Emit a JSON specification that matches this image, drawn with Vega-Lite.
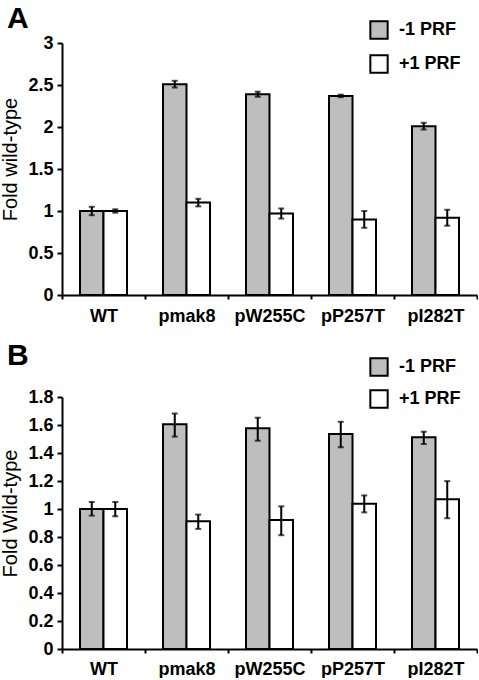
{
  "$schema": "https://vega.github.io/schema/vega-lite/v6.json",
  "background": "white",
  "padding": {"left": 0, "top": 4, "right": 0, "bottom": 0},
  "config": {
    "font": "Liberation Sans",
    "view": {"stroke": null},
    "axis": {"labelColor": "black", "titleColor": "black", "domainColor": "black", "tickColor": "black", "grid": false, "labelOverlap": false}
  },
  "datasets": {
    "A": [
      {"construct": "WT", "frame": "-1 PRF", "value": 1.0, "lo": 0.95, "hi": 1.05},
      {"construct": "WT", "frame": "+1 PRF", "value": 1.0, "lo": 0.98, "hi": 1.02},
      {"construct": "pmak8", "frame": "-1 PRF", "value": 2.51, "lo": 2.47, "hi": 2.55},
      {"construct": "pmak8", "frame": "+1 PRF", "value": 1.10, "lo": 1.055, "hi": 1.145},
      {"construct": "pW255C", "frame": "-1 PRF", "value": 2.39, "lo": 2.36, "hi": 2.42},
      {"construct": "pW255C", "frame": "+1 PRF", "value": 0.97, "lo": 0.91, "hi": 1.03},
      {"construct": "pP257T", "frame": "-1 PRF", "value": 2.37, "lo": 2.355, "hi": 2.385},
      {"construct": "pP257T", "frame": "+1 PRF", "value": 0.90, "lo": 0.80, "hi": 1.00},
      {"construct": "pI282T", "frame": "-1 PRF", "value": 2.01, "lo": 1.97, "hi": 2.05},
      {"construct": "pI282T", "frame": "+1 PRF", "value": 0.92, "lo": 0.825, "hi": 1.015}
    ],
    "B": [
      {"construct": "WT", "frame": "-1 PRF", "value": 1.0, "lo": 0.953, "hi": 1.05},
      {"construct": "WT", "frame": "+1 PRF", "value": 1.0, "lo": 0.948, "hi": 1.05},
      {"construct": "pmak8", "frame": "-1 PRF", "value": 1.605, "lo": 1.517, "hi": 1.682},
      {"construct": "pmak8", "frame": "+1 PRF", "value": 0.912, "lo": 0.858, "hi": 0.96},
      {"construct": "pW255C", "frame": "-1 PRF", "value": 1.576, "lo": 1.488, "hi": 1.652},
      {"construct": "pW255C", "frame": "+1 PRF", "value": 0.922, "lo": 0.813, "hi": 1.019},
      {"construct": "pP257T", "frame": "-1 PRF", "value": 1.536, "lo": 1.441, "hi": 1.623},
      {"construct": "pP257T", "frame": "+1 PRF", "value": 1.038, "lo": 0.976, "hi": 1.097},
      {"construct": "pI282T", "frame": "-1 PRF", "value": 1.512, "lo": 1.464, "hi": 1.552},
      {"construct": "pI282T", "frame": "+1 PRF", "value": 1.069, "lo": 0.934, "hi": 1.199}
    ]
  },
  "spacing": 102,
  "bounds": "flush",
  "resolve": {"scale": {"x": "independent", "y": "independent", "xOffset": "independent", "fill": "independent"}, "legend": {"fill": "independent"}},
  "vconcat": [
    {
      "width": 415, "height": 252,
      "title": {"text": "A", "anchor": "start", "frame": "group", "fontSize": 30, "fontWeight": "bold", "color": "black", "dx": -55, "dy": 38, "offset": 0, "baseline": "alphabetic"},
      "data": {"name": "A"},
      "encoding": {
        "x": {"field": "construct", "type": "nominal", "sort": ["WT", "pmak8", "pW255C", "pP257T", "pI282T"], "scale": {"paddingInner": 0, "paddingOuter": 0},
          "axis": {"title": null, "labelAngle": 0, "labelFontSize": 18, "labelFontWeight": "bold", "labelPadding": 8, "tickBand": "extent", "tickSize": 4, "tickWidth": 2, "domainWidth": 2}},
        "xOffset": {"field": "frame", "type": "nominal", "sort": ["-1 PRF", "+1 PRF"], "scale": {"paddingInner": 0, "paddingOuter": 0.766}}
      },
      "layer": [
        {"mark": {"type": "bar", "stroke": "black", "strokeWidth": 2},
          "encoding": {
            "y": {"field": "value", "type": "quantitative", "title": "Fold wild-type", "scale": {"domain": [0, 3], "nice": false},
              "axis": {"values": [0, 0.5, 1, 1.5, 2, 2.5, 3], "format": "~g", "labelOverlap": false, "labelFontSize": 18, "labelFontWeight": "bold", "labelPadding": 4, "tickSize": 5, "tickWidth": 2, "domainWidth": 2,
                "titleFontSize": 20, "titleFontWeight": "normal", "titleX": -42, "titleY": 116, "titleAngle": -90, "titleBaseline": "bottom", "titleAlign": "center"}},
            "fill": {"field": "frame", "type": "nominal", "sort": ["-1 PRF", "+1 PRF"], "scale": {"domain": ["-1 PRF", "+1 PRF"], "range": ["#bebebe", "#ffffff"]},
              "legend": {"orient": "none", "legendX": 307, "legendY": -23, "title": null, "symbolType": "square", "symbolSize": 300, "symbolStrokeColor": "black", "symbolStrokeWidth": 2, "symbolOpacity": 1, "labelFontSize": 18, "labelFontWeight": "bold", "labelColor": "black", "labelOffset": 10, "rowPadding": 8, "padding": 0}}
          }},
        {"mark": {"type": "rule", "color": "black", "strokeWidth": 2},
          "encoding": {"y": {"field": "lo", "type": "quantitative", "title": "Fold wild-type", "axis": {"values": [0, 0.5, 1, 1.5, 2, 2.5, 3], "labelOverlap": false}}, "y2": {"field": "hi"}}},
        {"mark": {"type": "tick", "color": "black", "thickness": 2, "size": 6},
          "encoding": {"y": {"field": "lo", "type": "quantitative", "title": "Fold wild-type", "axis": {"values": [0, 0.5, 1, 1.5, 2, 2.5, 3], "labelOverlap": false}}}},
        {"mark": {"type": "tick", "color": "black", "thickness": 2, "size": 6},
          "encoding": {"y": {"field": "hi", "type": "quantitative", "title": "Fold wild-type", "axis": {"values": [0, 0.5, 1, 1.5, 2, 2.5, 3], "labelOverlap": false}}}}
      ]
    },
    {
      "width": 415, "height": 252,
      "title": {"text": "B", "anchor": "start", "frame": "group", "fontSize": 30, "fontWeight": "bold", "color": "black", "dx": -55, "dy": 38, "offset": 0, "baseline": "alphabetic"},
      "data": {"name": "B"},
      "encoding": {
        "x": {"field": "construct", "type": "nominal", "sort": ["WT", "pmak8", "pW255C", "pP257T", "pI282T"], "scale": {"paddingInner": 0, "paddingOuter": 0},
          "axis": {"title": null, "labelAngle": 0, "labelFontSize": 18, "labelFontWeight": "bold", "labelPadding": 7, "tickBand": "extent", "tickSize": 4, "tickWidth": 2, "domainWidth": 2}},
        "xOffset": {"field": "frame", "type": "nominal", "sort": ["-1 PRF", "+1 PRF"], "scale": {"paddingInner": 0, "paddingOuter": 0.766}}
      },
      "layer": [
        {"mark": {"type": "bar", "stroke": "black", "strokeWidth": 2},
          "encoding": {
            "y": {"field": "value", "type": "quantitative", "title": "Fold Wild-type", "scale": {"domain": [0, 1.8], "nice": false},
              "axis": {"values": [0, 0.2, 0.4, 0.6, 0.8, 1, 1.2, 1.4, 1.6, 1.8], "format": "~g", "labelOverlap": false, "labelFontSize": 18, "labelFontWeight": "bold", "labelPadding": 4, "tickSize": 5, "tickWidth": 2, "domainWidth": 2,
                "titleFontSize": 20, "titleFontWeight": "normal", "titleX": -42, "titleY": 116, "titleAngle": -90, "titleBaseline": "bottom", "titleAlign": "center"}},
            "fill": {"field": "frame", "type": "nominal", "sort": ["-1 PRF", "+1 PRF"], "scale": {"domain": ["-1 PRF", "+1 PRF"], "range": ["#bebebe", "#ffffff"]},
              "legend": {"orient": "none", "legendX": 307, "legendY": -40, "title": null, "symbolType": "square", "symbolSize": 300, "symbolStrokeColor": "black", "symbolStrokeWidth": 2, "symbolOpacity": 1, "labelFontSize": 18, "labelFontWeight": "bold", "labelColor": "black", "labelOffset": 10, "rowPadding": 6, "padding": 0}}
          }},
        {"mark": {"type": "rule", "color": "black", "strokeWidth": 2},
          "encoding": {"y": {"field": "lo", "type": "quantitative", "title": "Fold Wild-type", "axis": {"values": [0, 0.2, 0.4, 0.6, 0.8, 1, 1.2, 1.4, 1.6, 1.8], "labelOverlap": false}}, "y2": {"field": "hi"}}},
        {"mark": {"type": "tick", "color": "black", "thickness": 2, "size": 6},
          "encoding": {"y": {"field": "lo", "type": "quantitative", "title": "Fold Wild-type", "axis": {"values": [0, 0.2, 0.4, 0.6, 0.8, 1, 1.2, 1.4, 1.6, 1.8], "labelOverlap": false}}}},
        {"mark": {"type": "tick", "color": "black", "thickness": 2, "size": 6},
          "encoding": {"y": {"field": "hi", "type": "quantitative", "title": "Fold Wild-type", "axis": {"values": [0, 0.2, 0.4, 0.6, 0.8, 1, 1.2, 1.4, 1.6, 1.8], "labelOverlap": false}}}}
      ]
    }
  ]
}
